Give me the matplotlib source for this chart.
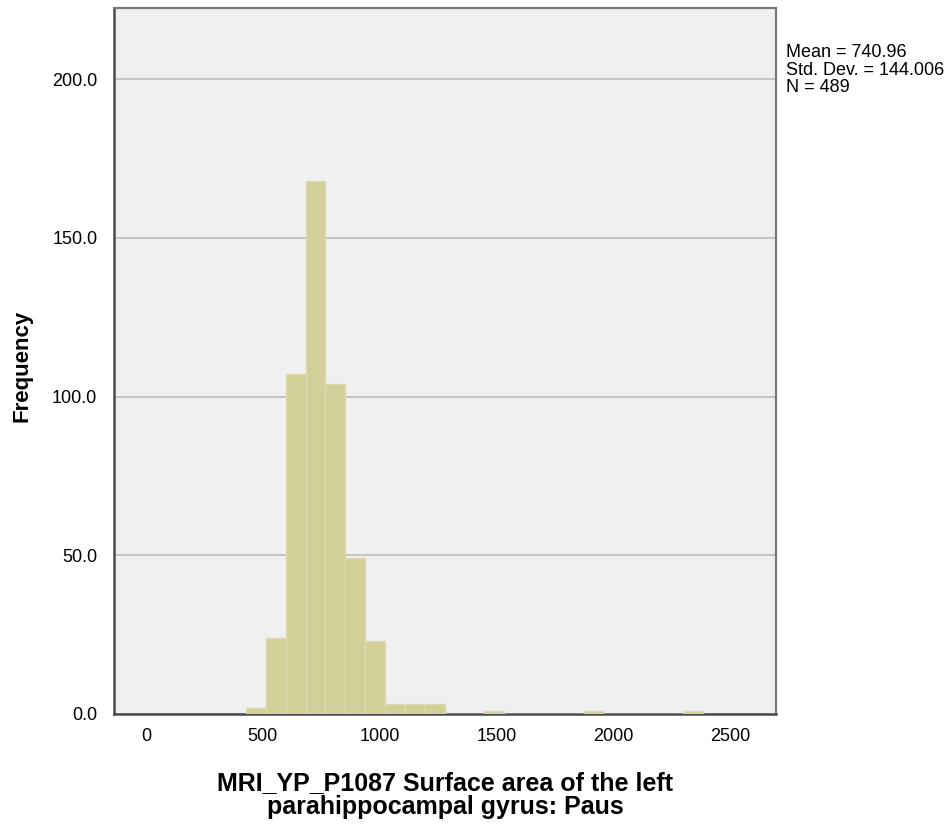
import matplotlib
matplotlib.use("Agg")
import matplotlib.pyplot as plt
import numpy as np

plt.rcParams['font.family'] = ['Liberation Sans', 'DejaVu Sans']

# Histogram bins (left edges) and counts
bin_start = 428.0
bin_width = 85.0
counts = [2, 24, 107, 168, 104, 49, 23, 3, 3, 3, 0, 0, 1, 0, 0, 0, 0, 1, 0, 0, 0, 0, 1]
x_ticks = [0, 500, 1000, 1500, 2000, 2500]
y_ticks = [0, 50, 100, 150, 200]
stats_text = "Mean = 740.96\nStd. Dev. = 144.006\nN = 489"
x_label = "MRI_YP_P1087 Surface area of the left\nparahippocampal gyrus: Paus"
y_label = "Frequency"

edges = bin_start + bin_width * np.arange(len(counts) + 1)

fig = plt.figure(figsize=(9.51, 8.25), dpi=100)
ax = fig.add_axes([114/951, 1-714/825, (776-114)/951, (714-8)/825])
ax.set_facecolor('#F0F0F0')

ax.bar(edges[:-1], counts, width=bin_width, align='edge',
       color='#D3CF98', edgecolor='#DEDAAE', linewidth=1.0, zorder=3)

ax.set_xlim(-137, 2697)
ax.set_ylim(0, 222.4)
ax.set_xticks(x_ticks)
ax.set_xticklabels([str(v) for v in x_ticks])
ax.set_yticks(y_ticks)
ax.set_yticklabels([f"{v:.1f}" for v in y_ticks])
ax.tick_params(length=0, labelsize=13, colors='#000000')
ax.tick_params(axis='y', pad=12)
ax.tick_params(axis='x', pad=10)
ax.yaxis.grid(True, color='#BDBDBD', linewidth=1.2, zorder=0)
ax.set_axisbelow(True)

for s in ['left', 'bottom']:
    ax.spines[s].set_color('#4A4A4A')
    ax.spines[s].set_linewidth(1.8)
for s in ['top', 'right']:
    ax.spines[s].set_color('#7A7A7A')
    ax.spines[s].set_linewidth(1.6)

fig.text(445/951, 1-795/825, x_label, ha='center', va='center',
         fontsize=18, fontweight='bold', linespacing=0.97)
fig.text(22/951, 1-366/825, y_label, ha='center', va='center',
         fontsize=16, fontweight='bold', rotation=90)
fig.text(786/951, 1-44/825, stats_text, ha='left', va='top',
         fontsize=13, linespacing=1.05)

fig.savefig('out.png', dpi=100, facecolor='white')
